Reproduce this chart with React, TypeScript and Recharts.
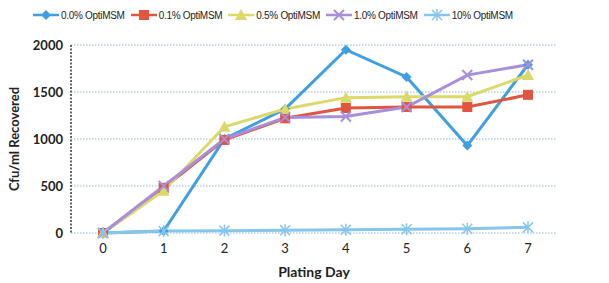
import { LineChart, Line, XAxis, YAxis, CartesianGrid, Legend } from "recharts";

const days = ["0", "1", "2", "3", "4", "5", "6", "7"];
const opti00 = [0, 20, 1000, 1320, 1950, 1660, 930, 1790];
const opti01 = [0, 480, 990, 1220, 1330, 1340, 1340, 1470];
const opti05 = [0, 450, 1130, 1320, 1440, 1450, 1450, 1680];
const opti10 = [0, 500, 1000, 1230, 1240, 1340, 1680, 1790];
const opti100 = [0, 20, 25, 30, 35, 40, 45, 60];
const yTicks = [0, 500, 1000, 1500, 2000];

const series = [
  { key: "a", name: "0.0% OptiMSM", values: opti00, color: "#3f9fe2", shape: "diamond" },
  { key: "b", name: "0.1% OptiMSM", values: opti01, color: "#e0553f", shape: "square" },
  { key: "c", name: "0.5% OptiMSM", values: opti05, color: "#dcd86a", shape: "triangle" },
  { key: "d", name: "1.0% OptiMSM", values: opti10, color: "#a88fdb", shape: "x" },
  { key: "e", name: "10% OptiMSM", values: opti100, color: "#86c6ec", shape: "star" },
];

const data = days.map((d, i) => {
  const row: Record<string, string | number> = { day: d };
  series.forEach((s) => (row[s.key] = s.values[i]));
  return row;
});

function Marker({ shape, color, cx, cy }: { shape: string; color: string; cx: number; cy: number }) {
  const r = 5;
  if (shape === "diamond")
    return <polygon points={`${cx},${cy - r} ${cx + r},${cy} ${cx},${cy + r} ${cx - r},${cy}`} fill={color} />;
  if (shape === "square")
    return <rect x={cx - r} y={cy - r} width={r * 2} height={r * 2} fill={color} />;
  if (shape === "triangle")
    return <polygon points={`${cx},${cy - r - 1} ${cx + r + 1},${cy + r} ${cx - r - 1},${cy + r}`} fill={color} />;
  if (shape === "x")
    return (
      <g stroke={color} strokeWidth={2}>
        <line x1={cx - r} y1={cy - r} x2={cx + r} y2={cy + r} />
        <line x1={cx - r} y1={cy + r} x2={cx + r} y2={cy - r} />
      </g>
    );
  return (
    <g stroke={color} strokeWidth={1.5}>
      <line x1={cx - r} y1={cy - r} x2={cx + r} y2={cy + r} />
      <line x1={cx - r} y1={cy + r} x2={cx + r} y2={cy - r} />
      <line x1={cx} y1={cy - r - 1} x2={cx} y2={cy + r + 1} />
    </g>
  );
}

const renderLegend = () => (
  <div style={{ display: "flex", paddingLeft: 33, gap: 6, fontFamily: "Liberation Sans", fontSize: 10, letterSpacing: -0.3, color: "#222" }}>
    {series.map((s) => (
      <div key={s.key} style={{ display: "flex", alignItems: "center" }}>
        <svg width={26} height={12}>
          <line x1={0} y1={6} x2={26} y2={6} stroke={s.color} strokeWidth={2.5} />
          <Marker shape={s.shape} color={s.color} cx={13} cy={6} />
        </svg>
        <span style={{ marginLeft: 2 }}>{s.name}</span>
      </div>
    ))}
  </div>
);

export default function App() {
  return (
    <div style={{ position: "absolute", left: 0, top: 0, width: 609, height: 283, background: "#fff" }}>
      <LineChart width={609} height={283} data={data} margin={{ top: 33, right: 52, left: 5, bottom: 0 }}>
        <Legend verticalAlign="top" content={renderLegend} wrapperStyle={{ top: 9, left: 0, width: 609 }} />
        <CartesianGrid vertical={false} stroke="#8fb7d6" strokeDasharray="1.5 1.5" />
        <XAxis
          dataKey="day"
          axisLine={false}
          tickLine={false}
          height={50}
          padding={{ left: 32, right: 29 }}
          tick={{ fill: "#222", fontSize: 13, fontFamily: "Lato" }}
          dy={3}
          label={{ value: "Plating Day", position: "insideBottom", offset: 6, fill: "#222", fontSize: 14, fontWeight: 700, fontFamily: "Lato" }}
        />
        <YAxis
          width={66}
          domain={[0, 2000]}
          ticks={yTicks}
          interval={0}
          axisLine={{ stroke: "#333", strokeDasharray: "2 1.5", strokeWidth: 1.5 }}
          tickLine={false}
          tick={{ fill: "#222", fontSize: 13, fontWeight: 700, fontFamily: "Lato" }}
          label={{
            content: ({ viewBox }: any) => (
              <text
                transform={`translate(${viewBox.x + 9},${viewBox.y + viewBox.height / 2}) rotate(-90)`}
                textAnchor="middle"
                dominantBaseline="central"
                fill="#222"
                fontSize={13}
                fontWeight={700}
                fontFamily="Lato"
              >
                Cfu/ml Recovered
              </text>
            ),
          }}
        />
        {series.map((s) => (
          <Line
            key={s.key}
            dataKey={s.key}
            name={s.name}
            stroke={s.color}
            strokeWidth={3}
            isAnimationActive={false}
            dot={(p: any) => <Marker key={`${s.key}-${p.index}`} shape={s.shape} color={s.color} cx={p.cx} cy={p.cy} />}
            activeDot={false}
          />
        ))}
      </LineChart>
    </div>
  );
}
